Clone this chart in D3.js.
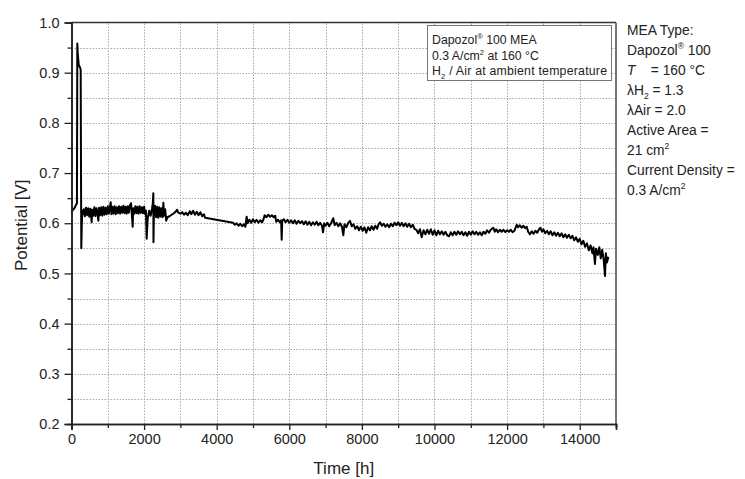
<!DOCTYPE html>
<html>
<head>
<meta charset="utf-8">
<script src="https://cdn.jsdelivr.net/npm/d3@7"></script>
<style>
  body { margin: 0; background: #fff; }
  text { font-family: "Liberation Sans", Arial, sans-serif; fill: #222; }
</style>
</head>
<body>
<svg id="chart" width="745" height="479"></svg>
<script>
//------------------------------------------------------------------------------
// Data
//------------------------------------------------------------------------------

var hours = [
  // start-up and conditioning spike
  0, 40, 80, 120, 150, 160, 170, 200, 240, 253, 262, 270, 285, 300, 320,
  // first period, thick noise band
  340, 370, 400, 430, 460, 490, 520, 555, 570, 600, 630, 660, 690, 720, 740, 760, 790, 820, 850, 880,
  910, 940, 970, 1000, 1030, 1060, 1080, 1100, 1130, 1160, 1190, 1220, 1250, 1280, 1310, 1340, 1370,
  1400, 1430, 1460, 1490, 1520, 1550, 1580, 1610, 1640, 1660, 1685, 1700, 1730, 1760, 1790, 1820,
  1850, 1880, 1910, 1940, 1970, 2000, 2030, 2050,
  // disturbances around 2000-2600 h
  2070, 2100, 2140, 2180, 2220, 2240, 2255, 2258, 2270, 2300, 2330, 2360, 2390, 2420, 2450, 2480,
  2510, 2530, 2550, 2580, 2610, 2640,
  // up to the data gap
  2700, 2760, 2820, 2880, 2910, 2940, 3000, 3050, 3100, 3150, 3200, 3260, 3300, 3350, 3400, 3450,
  3500, 3550, 3600, 3650, 3680,
  // after the gap
  4450, 4500, 4550, 4600, 4650, 4700, 4750, 4790, 4825, 4850, 4900, 4950, 5000, 5050, 5100, 5150,
  5200, 5250, 5290, 5320, 5370, 5420, 5470, 5520, 5570, 5610, 5640, 5690, 5740, 5775, 5790, 5805,
  5850, 5900, 5950, 6000, 6050, 6100, 6150, 6200, 6250, 6300, 6350, 6400, 6450, 6500, 6550, 6600,
  6650, 6700, 6750, 6800, 6850, 6900, 6930, 6960, 7000, 7050, 7100, 7150, 7212, 7250, 7300, 7350,
  7400, 7450, 7488, 7520, 7570, 7620, 7672, 7720, 7770, 7820, 7870, 7920, 7970, 8020, 8070, 8120,
  8170, 8220, 8270, 8320, 8370, 8420, 8460, 8500, 8550, 8600, 8650, 8700, 8750, 8800, 8850, 8900,
  8950, 9000, 9050, 9100, 9150, 9200, 9250, 9300, 9350, 9400, 9450, 9500, 9550, 9600, 9647, 9700,
  9750, 9800, 9850, 9900, 9950, 10000, 10050, 10100, 10150, 10200, 10250, 10300, 10350, 10400,
  10450, 10500, 10550, 10600, 10650, 10700, 10750, 10800, 10850, 10900, 10950, 11000, 11050, 11100,
  11150, 11200, 11250, 11300, 11350, 11400, 11450, 11500, 11550, 11620, 11660, 11700, 11750, 11800,
  11850, 11900, 11950, 12000, 12050, 12100, 12150, 12200, 12264, 12300, 12350, 12400, 12450, 12500,
  12540, 12580, 12630, 12680, 12730, 12780, 12830, 12880, 12920, 12960, 13000, 13050, 13100, 13150,
  13200, 13250, 13300, 13350, 13400, 13450, 13500, 13550, 13600, 13650, 13700, 13750, 13800, 13850,
  13900, 13950, 14000, 14050, 14100, 14150, 14200, 14250, 14300, 14350, 14380, 14420, 14450, 14500,
  14540, 14580, 14620, 14660, 14697, 14720, 14750, 14790
];

var potential = [
  0.622, 0.627, 0.630, 0.636, 0.640, 0.958, 0.940, 0.915, 0.910, 0.905, 0.700, 0.550, 0.600, 0.625, 0.618,
  0.628, 0.614, 0.631, 0.616, 0.630, 0.613, 0.629, 0.602, 0.627, 0.615, 0.632, 0.614, 0.630, 0.617, 0.605, 0.631, 0.616, 0.632, 0.615, 0.633,
  0.617, 0.631, 0.618, 0.634, 0.619, 0.633, 0.642, 0.618, 0.633, 0.619, 0.634, 0.618, 0.632, 0.620, 0.634, 0.619, 0.633,
  0.621, 0.635, 0.620, 0.633, 0.619, 0.634, 0.621, 0.636, 0.640, 0.620, 0.593, 0.630, 0.619, 0.634, 0.620, 0.633,
  0.619, 0.634, 0.621, 0.632, 0.620, 0.633, 0.618, 0.625,
  0.569, 0.610, 0.625, 0.615, 0.630, 0.640, 0.660, 0.562, 0.620, 0.635, 0.612, 0.633, 0.611, 0.632, 0.613, 0.630,
  0.612, 0.641, 0.615, 0.628, 0.605, 0.612,
  0.614, 0.617, 0.620, 0.624, 0.627, 0.621, 0.619, 0.622, 0.617, 0.621, 0.616, 0.624, 0.618, 0.625, 0.617, 0.623,
  0.616, 0.622, 0.614, 0.618, 0.611,
  0.601, 0.597, 0.600, 0.595, 0.599, 0.594, 0.598, 0.593, 0.613, 0.600, 0.607, 0.601, 0.608, 0.602, 0.607, 0.601,
  0.606, 0.602, 0.608, 0.616, 0.612, 0.617, 0.613, 0.616, 0.612, 0.615, 0.603, 0.607, 0.602, 0.606, 0.567, 0.604,
  0.608, 0.602, 0.607, 0.601, 0.606, 0.600, 0.606, 0.599, 0.605, 0.600, 0.604, 0.598, 0.604, 0.597, 0.603, 0.596,
  0.602, 0.597, 0.603, 0.596, 0.601, 0.595, 0.582, 0.600, 0.595, 0.601, 0.594, 0.600, 0.610, 0.596, 0.601, 0.594,
  0.600, 0.593, 0.576, 0.598, 0.592, 0.600, 0.605, 0.594, 0.598, 0.589, 0.594, 0.586, 0.593, 0.585, 0.592, 0.581,
  0.592, 0.586, 0.594, 0.587, 0.595, 0.589, 0.598, 0.602, 0.595, 0.599, 0.593, 0.598, 0.592, 0.599, 0.594, 0.601,
  0.596, 0.602, 0.595, 0.601, 0.594, 0.600, 0.593, 0.599, 0.592, 0.597, 0.589, 0.587, 0.580, 0.588, 0.572, 0.586,
  0.578, 0.587, 0.579, 0.588, 0.577, 0.586, 0.576, 0.585, 0.578, 0.584, 0.577, 0.583, 0.576, 0.574,
  0.582, 0.576, 0.583, 0.577, 0.584, 0.578, 0.583, 0.576, 0.582, 0.575, 0.583, 0.577, 0.584, 0.578,
  0.583, 0.577, 0.582, 0.576, 0.583, 0.579, 0.586, 0.581, 0.587, 0.591, 0.583, 0.588, 0.582, 0.587,
  0.583, 0.587, 0.582, 0.586, 0.583, 0.587, 0.582, 0.585, 0.597, 0.592, 0.596, 0.591, 0.595, 0.590,
  0.593, 0.583, 0.578, 0.584, 0.579, 0.585, 0.581, 0.588, 0.591, 0.583, 0.588, 0.580, 0.585, 0.578,
  0.584, 0.576, 0.582, 0.575, 0.581, 0.574, 0.580, 0.572, 0.578, 0.571, 0.577, 0.570, 0.575, 0.566,
  0.572, 0.563, 0.569, 0.558, 0.565, 0.553, 0.560, 0.546, 0.556, 0.540, 0.552, 0.519, 0.549, 0.537,
  0.552, 0.530, 0.547, 0.528, 0.495, 0.540, 0.522, 0.533
];

var xTicks = [0, 2000, 4000, 6000, 8000, 10000, 12000, 14000];
var yTicks = [0.2, 0.3, 0.4, 0.5, 0.6, 0.7, 0.8, 0.9, 1.0];

var boxLines = ["Dapozol|®| 100 MEA", "0.3 A/cm|2| at 160 °C", "H|2| / Air at ambient temperature"];

//------------------------------------------------------------------------------
// Layout
//------------------------------------------------------------------------------

var margin = {left: 71.5, top: 22.5, right: 745 - 616, bottom: 479 - 424};
var W = 745, H = 479;

var svg = d3.select("#chart");

var x = d3.scaleLinear().domain([0, 15000]).range([margin.left, W - margin.right]);
var y = d3.scaleLinear().domain([0.2, 1.0]).range([H - margin.bottom, margin.top]);

// grid
var grid = svg.append("g").attr("class", "grid")
  .attr("stroke", "#a8a8a8")
  .attr("stroke-width", 1)
  .attr("stroke-dasharray", "1.5,1.5");

grid.selectAll(".gx").data(d3.range(1000, 15000, 1000)).enter().append("line")
  .attr("x1", function(d) { return Math.round(x(d)) + 0.5; })
  .attr("x2", function(d) { return Math.round(x(d)) + 0.5; })
  .attr("y1", y(0.2)).attr("y2", y(1.0));

grid.selectAll(".gy").data(d3.range(0.25, 1.0, 0.05)).enter().append("line")
  .attr("y1", function(d) { return Math.round(y(d)) + 0.5; })
  .attr("y2", function(d) { return Math.round(y(d)) + 0.5; })
  .attr("x1", x(0)).attr("x2", x(15000));

// series
var line = d3.line()
  .x(function(d, i) { return x(hours[i]); })
  .y(function(d) { return y(d); });

svg.append("path")
  .datum(potential)
  .attr("d", line)
  .attr("fill", "none")
  .attr("stroke", "#000")
  .attr("stroke-width", 2)
  .attr("stroke-linejoin", "round");

// frame (top / right)
svg.append("line").attr("x1", x(0)).attr("x2", x(15000)).attr("y1", y(1.0)).attr("y2", y(1.0))
  .attr("stroke", "#333").attr("stroke-width", 1.6);
svg.append("line").attr("x1", x(15000)).attr("x2", x(15000)).attr("y1", y(1.0)).attr("y2", y(0.2))
  .attr("stroke", "#555").attr("stroke-width", 1.6);

// axes
svg.append("g")
  .attr("transform", "translate(0," + y(0.2) + ")")
  .call(d3.axisBottom(x).tickValues(xTicks).tickSize(6).tickPadding(4).tickFormat(d3.format("d")));
svg.append("g")
  .attr("transform", "translate(0," + y(0.2) + ")")
  .call(d3.axisBottom(x).tickValues(d3.range(1000, 15001, 2000)).tickSize(4).tickFormat(""));

svg.append("g")
  .attr("transform", "translate(" + x(0) + ",0)")
  .call(d3.axisLeft(y).tickValues(yTicks).tickSize(7).tickPadding(5).tickFormat(d3.format(".1f")));
svg.append("g")
  .attr("transform", "translate(" + x(0) + ",0)")
  .call(d3.axisLeft(y).tickValues(d3.range(0.25, 1.0, 0.1)).tickSize(4).tickFormat(""));

svg.selectAll(".domain").attr("stroke", "#222").attr("stroke-width", 1.6);
svg.selectAll(".tick line").attr("stroke", "#222").attr("stroke-width", 1.3);
svg.selectAll(".tick text")
  .attr("font-family", "'Liberation Sans', Arial, sans-serif")
  .attr("font-size", 14.5)
  .attr("fill", "#222");

// axis titles
svg.append("text")
  .attr("x", (x(0) + x(15000)) / 2)
  .attr("y", 474)
  .attr("text-anchor", "middle")
  .attr("font-size", 17)
  .text("Time [h]");

svg.append("text")
  .attr("transform", "translate(27," + (y(0.6) + 2) + ") rotate(-90)")
  .attr("text-anchor", "middle")
  .attr("font-size", 17)
  .text("Potential [V]");

//------------------------------------------------------------------------------
// Annotation box
//------------------------------------------------------------------------------

svg.append("rect")
  .attr("x", 427.5).attr("y", 25.5)
  .attr("width", 184).attr("height", 55)
  .attr("fill", "#fff")
  .attr("stroke", "#777")
  .attr("stroke-width", 1);

// "a|b|c" : every second piece is a superscript (or subscript after "H")
function richText(sel, str, size) {
  var parts = str.split("|");
  var shift = 0;
  parts.forEach(function(p, i) {
    if (p === "") return;
    var t = sel.append("tspan").text(p);
    if (i % 2 == 1) {
      var sub = parts[i - 1].slice(-1) == "H";
      var dy = sub ? size * 0.3 : -size * 0.4;
      t.attr("font-size", size * 0.62).attr("dy", dy);
      shift += dy;
    } else if (shift != 0) {
      t.attr("dy", -shift);
      shift = 0;
    }
  });
}

boxLines.forEach(function(s, i) {
  var t = svg.append("text")
    .attr("x", 432)
    .attr("y", 44 + i * 15.5)
    .attr("font-size", 12.3)
    .attr("textLength", i == 2 ? 175 : null);
  richText(t, s, 12.3);
});

//------------------------------------------------------------------------------
// Side notes
//------------------------------------------------------------------------------

var notes = [
  "MEA Type:",
  "Dapozol|®| 100",
  "T_    = 160 °C",
  "λH|2| = 1.3",
  "λAir = 2.0",
  "Active Area =",
  "21 cm|2",
  "Current Density =",
  "0.3 A/cm|2"
];

notes.forEach(function(s, i) {
  var t = svg.append("text")
    .attr("x", 627)
    .attr("y", 35 + i * 20)
    .attr("font-size", 13.8);
  if (s.indexOf("T_") == 0) {
    t.append("tspan").attr("font-style", "italic").text("T");
    t.append("tspan").style("white-space", "pre").text("    = 160 °C");
  } else {
    richText(t, s, 13.8);
  }
});
</script>
</body>
</html>
